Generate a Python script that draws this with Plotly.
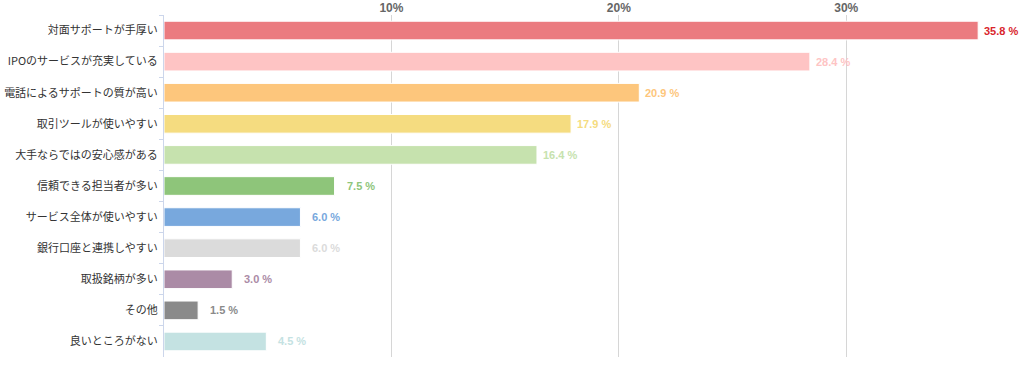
import plotly.graph_objects as go

categories = ["対面サポートが手厚い", "IPOのサービスが充実している", "電話によるサポートの質が高い",
              "取引ツールが使いやすい", "大手ならではの安心感がある", "信頼できる担当者が多い",
              "サービス全体が使いやすい", "銀行口座と連携しやすい", "取扱銘柄が多い", "その他", "良いところがない"]
values = [35.8, 28.4, 20.9, 17.9, 16.4, 7.5, 6.0, 6.0, 3.0, 1.5, 4.5]
bar_colors = ["#eb7b80", "#fec4c4", "#fdc67c", "#f5dc80", "#c6e2ae", "#8ec57a",
              "#78a8dd", "#dbdbdb", "#ab8ba6", "#8a8a8a", "#c4e2e2"]
label_colors = ["#d9262c", "#fec4c4", "#fdc67c", "#f5dc80", "#c6e2ae", "#8ec57a",
                "#78a8dd", "#dbdbdb", "#ab8ba6", "#8a8a8a", "#c4e2e2"]
tick_vals = [10, 20, 30]
tick_text = ["10%", "20%", "30%"]

fig = go.Figure()
fig.add_trace(go.Bar(
    y=categories, x=values, orientation="h",
    marker=dict(color=bar_colors, line=dict(color="#ffffff", width=1)),
    width=0.6, hoverinfo="skip",
))

for c, v, col in zip(categories, values, label_colors):
    fig.add_annotation(x=v, y=c, text=f"<b>{v:.1f} %</b>", showarrow=False,
                       xanchor="right", xshift=42,
                       font=dict(family="Liberation Sans, Arial", size=11, color=col))

fig.update_layout(
    width=1024, height=365,
    margin=dict(l=164, r=14, t=15, b=8, autoexpand=False),
    plot_bgcolor="#ffffff", paper_bgcolor="#ffffff",
    showlegend=False,
    bargap=0.4,
    font=dict(family="Noto Sans CJK JP", size=11, color="#333333"),
)
fig.update_xaxes(
    side="top", range=[0, 37.2], tickvals=tick_vals, ticktext=tick_text,
    showgrid=True, gridcolor="#d6d6d6", gridwidth=1, zeroline=False,
    showline=False, ticks="", automargin=False,
    tickfont=dict(family="Liberation Sans, Arial", size=12, color="#666666", weight="bold"),
)
fig.update_yaxes(
    autorange="reversed", showline=True, linecolor="#ccd6eb", linewidth=1,
    ticks="outside", tickson="boundaries", ticklen=4, tickcolor="#ccd6eb",
    ticklabelstandoff=3,
    showgrid=False, automargin=False,
    tickfont=dict(family="Noto Sans CJK JP", size=11, color="#333333"),
)

fig.write_html("out.html", config={"displayModeBar": False},
               post_script="document.body.style.margin='0px';")
